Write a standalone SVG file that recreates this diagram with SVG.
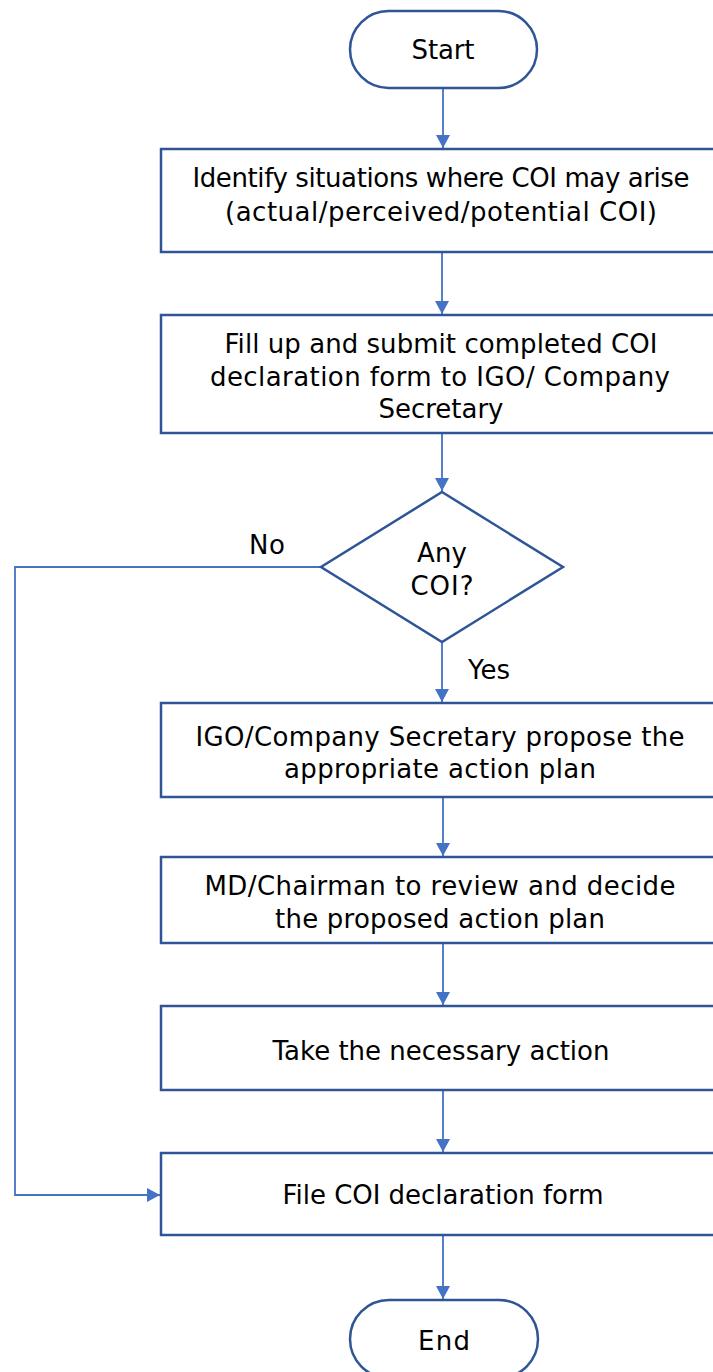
<svg xmlns="http://www.w3.org/2000/svg" width="713" height="1372" viewBox="0 0 713 1372">
<style>
.box{fill:#fff;stroke:#2F5597;stroke-width:2.5}
.t{font-family:"DejaVu Sans",sans-serif;font-size:26px;fill:#000;text-anchor:middle}
.c{fill:none;stroke:#4472C4;stroke-width:1.8}
</style>
<defs>
<marker id="ah" markerWidth="14" markerHeight="14" refX="13" refY="7" orient="auto" markerUnits="userSpaceOnUse" viewBox="0 0 13 14">
<path d="M0,0 L13,7 L0,14 z" fill="#4472C4"/>
</marker>
</defs>
<rect width="713" height="1372" fill="#fff"/>
<g id="connectors">
<line class="c" x1="443" y1="88" x2="443" y2="148" marker-end="url(#ah)"/>
<line class="c" x1="442" y1="252" x2="442" y2="314" marker-end="url(#ah)"/>
<line class="c" x1="442" y1="433" x2="442" y2="491" marker-end="url(#ah)"/>
<line class="c" x1="442" y1="642" x2="442" y2="702" marker-end="url(#ah)"/>
<line class="c" x1="443" y1="797" x2="443" y2="856" marker-end="url(#ah)"/>
<line class="c" x1="443" y1="943" x2="443" y2="1005" marker-end="url(#ah)"/>
<line class="c" x1="443" y1="1090" x2="443" y2="1152" marker-end="url(#ah)"/>
<line class="c" x1="443" y1="1235" x2="443" y2="1299" marker-end="url(#ah)"/>
<polyline class="c" points="321,567 15,567 15,1195 160,1195" marker-end="url(#ah)"/>
<text class="t" x="267" y="554" textLength="36">No</text>
<text class="t" x="489" y="679" textLength="42">Yes</text>
</g>
<g id="start">
<rect class="box" x="350" y="11" width="187" height="77" rx="38.5"/>
<text class="t" x="443" y="59" textLength="63">Start</text>
</g>
<g id="identify">
<rect class="box" x="161" y="149" width="562" height="103"/>
<text class="t" x="441" y="187" textLength="497">Identify situations where COI may arise</text>
<text class="t" x="441" y="221" textLength="432">(actual/perceived/potential COI)</text>
</g>
<g id="fillup">
<rect class="box" x="161" y="315" width="562" height="118"/>
<text class="t" x="441" y="353" textLength="433">Fill up and submit completed COI</text>
<text class="t" x="440" y="386" textLength="460">declaration form to IGO/ Company</text>
<text class="t" x="441" y="418" textLength="125">Secretary</text>
</g>
<g id="decision">
<polygon class="box" points="442,492 563,567 442,642 321,567"/>
<text class="t" x="442" y="562" textLength="50">Any</text>
<text class="t" x="442" y="595" textLength="63">COI?</text>
</g>
<g id="propose">
<rect class="box" x="161" y="703" width="562" height="94"/>
<text class="t" x="440" y="746" textLength="489">IGO/Company Secretary propose the</text>
<text class="t" x="440" y="778" textLength="312">appropriate action plan</text>
</g>
<g id="review">
<rect class="box" x="161" y="857" width="562" height="86"/>
<text class="t" x="440" y="895" textLength="471">MD/Chairman to review and decide</text>
<text class="t" x="440" y="928" textLength="330">the proposed action plan</text>
</g>
<g id="action">
<rect class="box" x="161" y="1006" width="562" height="84"/>
<text class="t" x="441" y="1060" textLength="337">Take the necessary action</text>
</g>
<g id="file">
<rect class="box" x="161" y="1153" width="562" height="82"/>
<text class="t" x="443" y="1204" textLength="321">File COI declaration form</text>
</g>
<g id="end">
<rect class="box" x="350" y="1300" width="188" height="78" rx="39"/>
<text class="t" x="444" y="1350" textLength="52">End</text>
</g>
</svg>
